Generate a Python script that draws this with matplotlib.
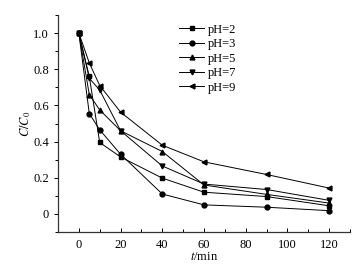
import numpy as np
import matplotlib
matplotlib.use('Agg')
import matplotlib.pyplot as plt
from matplotlib.ticker import MultipleLocator

plt.rcParams['font.family'] = ['Liberation Serif', 'DejaVu Serif']
plt.rcParams['mathtext.fontset'] = 'stix'

# time points (min)
t = [0, 5, 10, 20, 40, 60, 90, 120]

# C/C0 for each pH
ph2 = [1.0, 0.76, 0.395, 0.315, 0.198, 0.12, 0.096, 0.045]
ph3 = [1.0, 0.555, 0.465, 0.33, 0.11, 0.05, 0.037, 0.018]
ph5 = [1.0, 0.66, 0.575, 0.46, 0.345, 0.16, 0.108, 0.06]
ph7 = [1.0, 0.75, 0.685, 0.46, 0.265, 0.165, 0.135, 0.075]
ph9 = [1.0, 0.835, 0.71, 0.563, 0.38, 0.288, 0.218, 0.143]

labels = ['pH=2', 'pH=3', 'pH=5', 'pH=7', 'pH=9']
markers = ['s', 'o', '^', 'v', '<']
series = [ph2, ph3, ph5, ph7, ph9]

fig = plt.figure(figsize=(3.63, 2.71), dpi=100)
ax = fig.add_axes([58/363, 1 - 232/271, (350-58)/363, (232-15)/271])

for y, lab, m in zip(series, labels, markers):
    ax.plot(t, y, color='black', lw=0.7, marker=m, ms=3.5, label=lab)

ax.set_xlim(-10, 130)
ax.set_ylim(-0.1, 1.1)
ax.xaxis.set_major_locator(MultipleLocator(20))
ax.xaxis.set_minor_locator(MultipleLocator(10))
ax.yaxis.set_major_locator(MultipleLocator(0.2))
ax.yaxis.set_minor_locator(MultipleLocator(0.1))
ax.set_yticks([0, 0.2, 0.4, 0.6, 0.8, 1.0])
ax.set_yticklabels(['0', '0.2', '0.4', '0.6', '0.8', '1.0'])

for s in ['top', 'right']:
    ax.spines[s].set_visible(False)
for s in ['left', 'bottom']:
    ax.spines[s].set_linewidth(0.9)
    ax.spines[s].set_color('#333333')

ax.tick_params(axis='x', which='both', direction='in', labelsize=9, pad=5)
ax.tick_params(axis='y', which='both', direction='out', labelsize=9)
ax.tick_params(which='major', length=3, width=0.7)
ax.tick_params(which='minor', length=2, width=0.7)

ax.set_xlabel('$t$/min', fontsize=9, labelpad=0)
ax.set_ylabel('$C/C_0$', fontsize=9, labelpad=0)

ax.legend(loc='upper left', bbox_to_anchor=(0.415, 0.96), frameon=False,
          fontsize=9, handlelength=2.0, labelspacing=0.2, handletextpad=0.3,
          borderaxespad=0, borderpad=0)

fig.savefig('out.png', dpi=100)
